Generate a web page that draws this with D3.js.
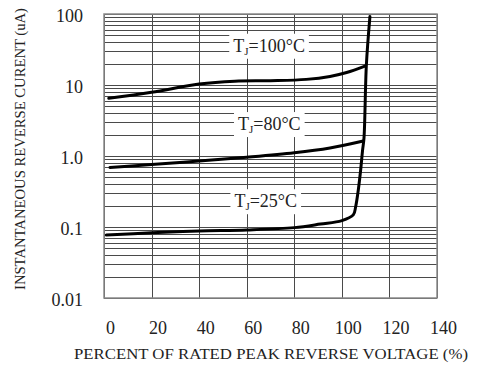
<!DOCTYPE html>
<html>
<head>
<meta charset="utf-8">
<script src="https://cdn.jsdelivr.net/npm/d3@7"></script>
<style>
  body { margin: 0; background: #fff; }
  text { font-family: "Liberation Serif", "Times New Roman", serif; fill: #222; }
</style>
</head>
<body>
<div id="chart"></div>
<script>
// reverse current vs percent of rated peak reverse voltage
const xTicks = [0, 20, 40, 60, 80, 100, 120, 140];
const yTicks = [0.01, 0.1, 1, 10, 100];
const yTickLabels = ['0.01', '0.1', '1.0', '10', '100'];

const pctT100 = [2, 20, 40, 55, 70, 85, 95, 102, 109.7];
const valT100 = [6.5, 7.9, 10.3, 11.3, 11.5, 12.0, 13.2, 15.0, 18.5];

const pctT80 = [2.5, 20, 40, 60, 80, 95, 109];
const valT80 = [0.69, 0.76, 0.85, 0.96, 1.11, 1.3, 1.63];

const pctT25 = [1, 20, 40, 60, 80, 91, 100, 104.8, 105.8, 106.9, 107.9, 108.7, 109.3, 110.3, 111.8];
const valT25 = [0.077, 0.083, 0.088, 0.091, 0.098, 0.11, 0.123, 0.148, 0.193, 0.33, 0.635, 1.2, 1.78, 19, 92];

const tempLabels = ['100', '80', '25'];
const labelPct = [69.4, 69.5, 68];
const labelVal = [29.4, 2.32, 0.19];

const W = 477, H = 367;
const margin = { top: 14, right: 40, bottom: 69, left: 104 },
  width = W - margin.left - margin.right,
  height = H - margin.top - margin.bottom;

const x = d3.scaleLinear().domain([0, 140]).range([0, width]);
const y = d3.scaleLog().domain([0.01, 100]).range([height, 0]);

const svg = d3.select('#chart')
  .append('svg')
  .attr('width', W)
  .attr('height', H);

const g = svg.append('g')
  .attr('transform', 'translate(' + margin.left + ',' + margin.top + ')');

// grid
g.append('g')
  .selectAll('line')
  .data(y.ticks())
  .enter().append('line')
  .attr('x1', 0).attr('x2', width)
  .attr('y1', d => Math.round(y(d)) + 0.5)
  .attr('y2', d => Math.round(y(d)) + 0.5)
  .attr('stroke', '#4a4a4a')
  .attr('stroke-width', 1);

g.append('g')
  .selectAll('line')
  .data(xTicks)
  .enter().append('line')
  .attr('x1', d => Math.round(x(d)) + 0.5)
  .attr('x2', d => Math.round(x(d)) + 0.5)
  .attr('y1', 0).attr('y2', height)
  .attr('stroke', '#4a4a4a')
  .attr('stroke-width', 1);

g.append('rect')
  .attr('x', 0).attr('y', 0)
  .attr('width', width).attr('height', height)
  .attr('fill', 'none')
  .attr('stroke', '#8a8a8a')
  .attr('stroke-width', 1.5);

// temperature labels with white boxes
tempLabels.forEach((t, i) => {
  const lg = g.append('g');
  const txt = lg.append('text')
    .attr('x', x(labelPct[i]))
    .attr('y', y(labelVal[i]))
    .attr('text-anchor', 'middle')
    .style('font-size', '18px');
  txt.append('tspan').text('T');
  txt.append('tspan').text('J').style('font-size', '11px').attr('dy', 3);
  txt.append('tspan').text('=' + t + '°C').attr('dy', -3);
  const bb = txt.node().getBBox();
  lg.insert('rect', 'text')
    .attr('x', bb.x - 4).attr('y', bb.y - 2)
    .attr('width', bb.width + 8).attr('height', bb.height + 4)
    .attr('fill', '#fff');
});

// curves
const line = d3.line()
  .curve(d3.curveCatmullRom.alpha(0.5))
  .x(d => x(d[0]))
  .y(d => y(d[1]));

[[pctT100, valT100], [pctT80, valT80], [pctT25, valT25]].forEach(s => {
  g.append('path')
    .datum(d3.zip(s[0], s[1]))
    .attr('fill', 'none')
    .attr('stroke', '#000')
    .attr('stroke-width', 3)
    .attr('stroke-linejoin', 'round')
    .attr('stroke-linecap', 'round')
    .attr('d', line);
});

// axes
const xAxis = g.append('g')
  .attr('transform', 'translate(0,' + height + ')')
  .call(d3.axisBottom(x).tickValues(xTicks).tickSize(0).tickFormat(d3.format('d')));
xAxis.select('.domain').remove();
xAxis.selectAll('text')
  .attr('dx', 6)
  .attr('y', 23)
  .style('font-size', '18px')
  .style('fill', '#222');

const yAxis = g.append('g')
  .call(d3.axisLeft(y).tickValues(yTicks).tickSize(0).tickFormat((d, i) => yTickLabels[i]));
yAxis.select('.domain').remove();
yAxis.selectAll('text')
  .attr('x', -21)
  .attr('dy', '0.4em')
  .style('font-size', '18px')
  .style('fill', '#222');

svg.append('text')
  .attr('x', 74).attr('y', 359)
  .attr('textLength', 394)
  .attr('lengthAdjust', 'spacingAndGlyphs')
  .style('font-size', '14px')
  .text('PERCENT OF RATED PEAK REVERSE VOLTAGE (%)');

svg.append('text')
  .attr('transform', 'translate(25,290) rotate(-90)')
  .attr('x', 0).attr('y', 0)
  .attr('textLength', 282)
  .attr('lengthAdjust', 'spacingAndGlyphs')
  .style('font-size', '14.5px')
  .text('INSTANTANEOUS REVERSE CURENT (uA)');
</script>
</body>
</html>
